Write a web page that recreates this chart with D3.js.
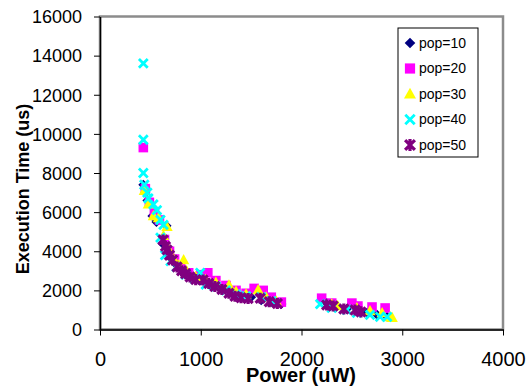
<!DOCTYPE html>
<html>
<head>
<meta charset="utf-8">
<script src="https://cdn.jsdelivr.net/npm/d3@7"></script>
<style>
  body { margin: 0; background: #fff; }
  text { font-family: Arial, "Liberation Sans", sans-serif; }
</style>
</head>
<body>
<div id="plot"></div>
<script>
// data: [power (uW), execution time (us)]
const pop10 = [[430,7400],[450,7000],[470,6600],[520,5800],[560,5500],[660,5300],[620,4400],[700,3800],
  [760,3300],[820,3000],[900,2700],[1000,2500],[1100,2300],[1200,2100],[1300,1900],[1400,1700],
  [1500,1650],[1600,1500],[1700,1400],[1800,1300],[2250,1350],[2350,1200],[2450,1050],[2550,950],
  [2650,850],[2750,750],[2850,650]];
const pop20 = [[430,9300],[450,7200],[490,6500],[540,6000],[590,5600],[640,4600],[690,4000],[740,3600],
  [800,3200],[880,2900],[1000,2800],[1070,2900],[1150,2500],[1250,2250],[1350,2000],[1450,1850],
  [1530,2100],[1620,2000],[1700,1650],[1800,1400],[2200,1600],[2300,1350],[2500,1350],[2560,1200],
  [2700,1150],[2830,1100]];
const pop30 = [[440,7100],[480,6400],[530,5800],[580,5700],[665,5250],[630,4800],[680,4100],[730,3600],
  [780,3300],[830,3550],[860,3000],[950,2700],[1050,2550],[1150,2400],[1280,2270],[1350,1950],
  [1450,1800],[1570,2020],[1650,1650],[1750,1450],[2300,1300],[2360,1200],[2550,1100],[2680,950],
  [2800,850],[2880,640],[2900,600]];
const pop40 = [[430,13600],[430,9700],[430,8000],[440,7400],[470,7000],[480,6700],[530,6400],[565,6100],
  [600,5600],[630,5350],[600,4700],[646,3800],[700,3500],[760,3200],[850,2800],[943,2580],[995,2900],
  [1050,2300],[1150,2200],[1250,2000],[1350,1800],[1450,1700],[1600,1650],[1700,1450],[2185,1300],
  [2300,1100],[2450,1000],[2550,850],[2680,750],[2780,650],[2850,650]];
const pop50 = [[626,4580],[650,4250],[666,4070],[690,3800],[720,3550],[765,3200],[810,3000],[850,2850],
  [894,2680],[950,2550],[1023,2530],[1080,2350],[1140,2200],[1210,2050],[1280,1850],[1340,1700],
  [1400,1620],[1470,1580],[1590,1600],[1680,1420],[1760,1330],[2250,1250],[2314,1200],[2420,1050],
  [2532,1000],[2590,900]];

const seriesNames = ["pop=10", "pop=20", "pop=30", "pop=40", "pop=50"];
const seriesData = [pop10, pop20, pop30, pop40, pop50];
const xTicks = [0, 1000, 2000, 3000, 4000];
const yTicks = [0, 2000, 4000, 6000, 8000, 10000, 12000, 14000, 16000];

const w = 530;
const h = 390;
const margin = {top: 16.5, right: 27, bottom: 60.5, left: 100};

const svg = d3.select("div#plot")
    .append("svg")
    .attr("width", w)
    .attr("height", h);

const xScale = d3.scaleLinear()
    .domain([0, 4000])
    .range([margin.left, w - margin.right]);

const yScale = d3.scaleLinear()
    .domain([0, 16000])
    .range([h - margin.bottom, margin.top]);

// marker styles per series
const markers = [
  {shape: "diamond", fill: "#000080", stroke: "none"},
  {shape: "square", fill: "#ff00ff", stroke: "none"},
  {shape: "triangle", fill: "#ffff00", stroke: "none"},
  {shape: "x", fill: "none", stroke: "#00ffff"},
  {shape: "star", fill: "none", stroke: "#800080"}
];

function markerPath(shape, s) {
  if (shape === "diamond") return `M0,${-s}L${s},0L0,${s}L${-s},0Z`;
  if (shape === "square") return `M${-s},${-s}H${s}V${s}H${-s}Z`;
  if (shape === "triangle") return `M0,${-s * 1.1}L${s * 1.05},${s * 0.8}L${-s * 1.05},${s * 0.8}Z`;
  if (shape === "x") return `M${-s},${-s}L${s},${s}M${s},${-s}L${-s},${s}`;
  return `M${-s},${-s}L${s},${s}M${s},${-s}L${-s},${s}M0,${-s * 1.2}L0,${s * 1.2}`;
}

const sizes = [5, 4.8, 5.4, 4.4, 4.6];
const strokes = [0, 0, 0, 2.8, 3.2];

// plot area border (gray, like excel)
svg.append("rect")
    .attr("x", xScale(0))
    .attr("y", yScale(16000))
    .attr("width", xScale(4000) - xScale(0))
    .attr("height", yScale(0) - yScale(16000))
    .attr("fill", "none")
    .attr("stroke", "#8c8c8c")
    .attr("stroke-width", 2.5);

// points
seriesData.forEach((data, i) => {
  const m = markers[i];
  svg.append("g")
    .selectAll("path")
    .data(data)
    .enter().append("path")
      .attr("transform", d => `translate(${xScale(d[0])},${yScale(d[1])})`)
      .attr("d", markerPath(m.shape, sizes[i]))
      .attr("fill", m.fill)
      .attr("stroke", m.stroke)
      .attr("stroke-width", strokes[i]);
});

// axes
const xAxis = d3.axisBottom(xScale).tickValues(xTicks).tickFormat(d3.format("d"))
    .tickSize(6).tickSizeOuter(0);
const yAxis = d3.axisLeft(yScale).tickValues(yTicks).tickFormat(d3.format("d"))
    .tickSize(6).tickSizeOuter(0);

const gx = svg.append("g")
    .attr("transform", `translate(0, ${yScale(0)})`)
    .call(xAxis);
gx.select(".domain").attr("stroke", "#000").attr("stroke-width", 1.5);
gx.selectAll(".tick line").attr("stroke", "#000");
gx.selectAll(".tick text")
    .attr("y", 36).attr("dy", 0)
    .attr("font-size", 20).attr("fill", "#000");

const gy = svg.append("g")
    .attr("transform", `translate(${xScale(0)}, 0)`)
    .call(yAxis);
gy.select(".domain").attr("stroke", "#000").attr("stroke-width", 1.5);
gy.selectAll(".tick line").attr("stroke", "#000");
gy.selectAll(".tick text")
    .attr("x", -18).attr("dy", "0.35em")
    .attr("font-size", 18).attr("fill", "#000");

// axis titles
svg.append("text")
    .attr("x", 301)
    .attr("y", 382)
    .attr("text-anchor", "middle")
    .attr("font-size", 20)
    .attr("font-weight", "bold")
    .text("Power (uW)");

svg.append("text")
    .attr("transform", "translate(29, 189) rotate(-90)")
    .attr("text-anchor", "middle")
    .attr("font-size", 18)
    .attr("font-weight", "bold")
    .text("Execution Time (us)");

// legend
const legend = svg.append("g").attr("transform", "translate(398, 28)");
legend.append("rect")
    .attr("width", 80)
    .attr("height", 129)
    .attr("fill", "#fff")
    .attr("stroke", "#000")
    .attr("stroke-width", 1);

seriesNames.forEach((name, i) => {
  const row = legend.append("g").attr("transform", `translate(0, ${15 + i * 25.5})`);
  const m = markers[i];
  row.append("path")
      .attr("transform", "translate(12, 0)")
      .attr("d", markerPath(m.shape, sizes[i] + 0.3))
      .attr("fill", m.fill)
      .attr("stroke", m.stroke)
      .attr("stroke-width", strokes[i]);
  row.append("text")
      .attr("x", 21)
      .attr("dy", "0.35em")
      .attr("font-size", 14)
      .text(name);
});
</script>
</body>
</html>
